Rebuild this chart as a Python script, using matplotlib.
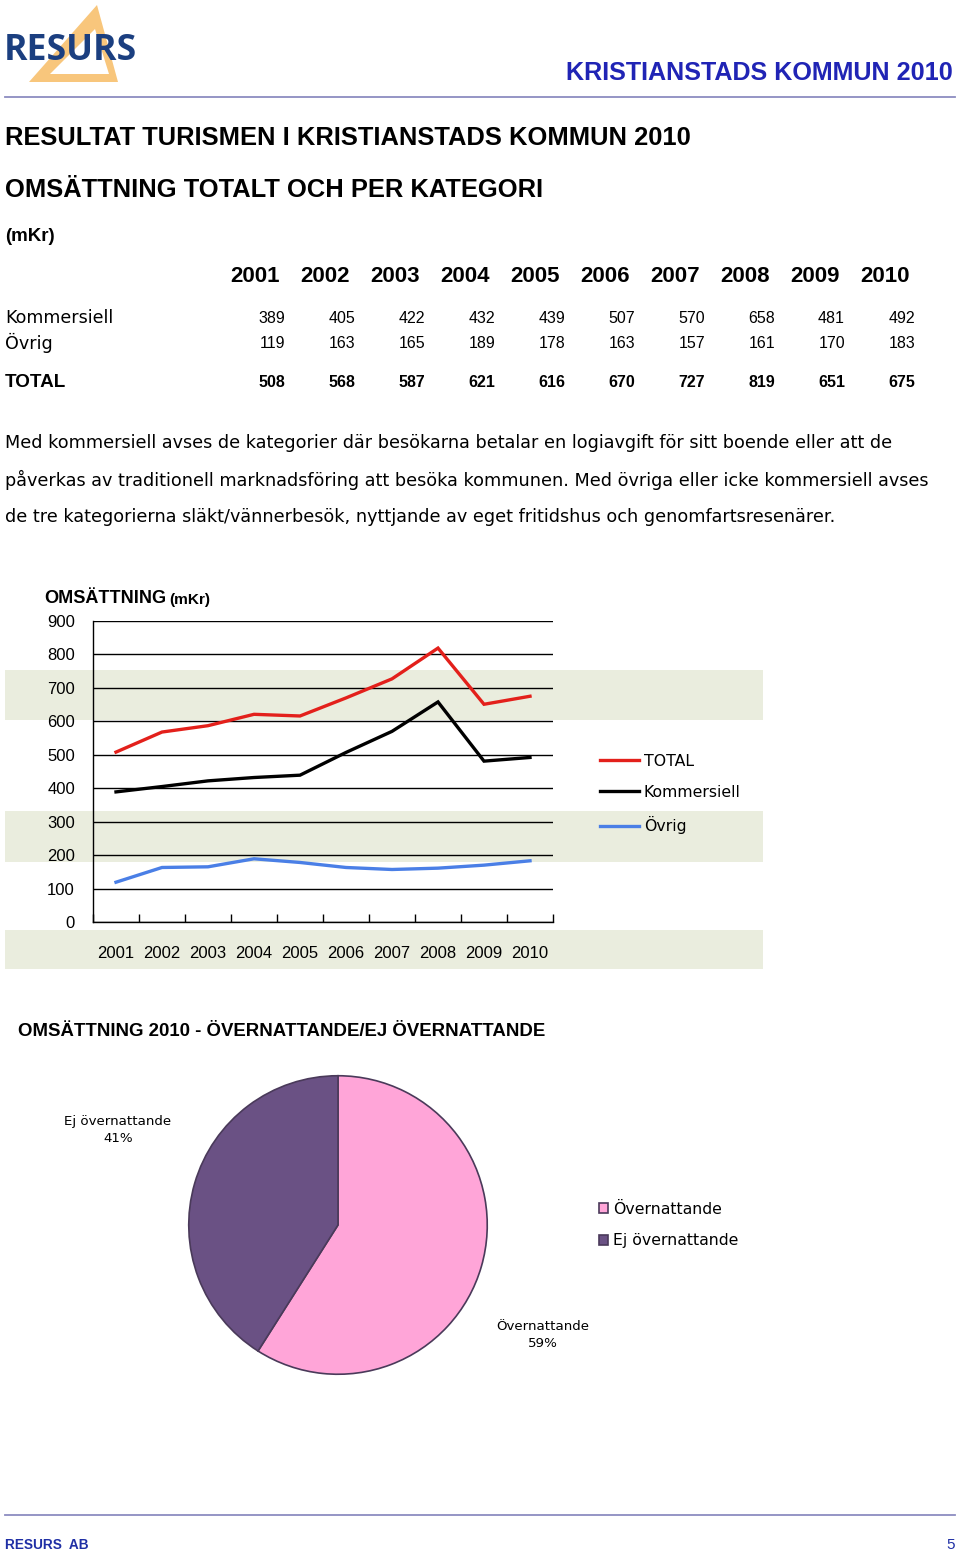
import numpy as np
import matplotlib
matplotlib.use('Agg')
import matplotlib.pyplot as plt
from matplotlib.patches import Polygon, Rectangle

#table / chart data (mKr)
years = ['2001', '2002', '2003', '2004', '2005', '2006', '2007', '2008', '2009', '2010']
kommersiell = [389, 405, 422, 432, 439, 507, 570, 658, 481, 492]
ovrig = [119, 163, 165, 189, 178, 163, 157, 161, 170, 183]
total = [508, 568, 587, 621, 616, 670, 727, 819, 651, 675]
y_ticks = [0, 100, 200, 300, 400, 500, 600, 700, 800, 900]

#pie data (2010)
pie_labels = ['Övernattande', 'Ej övernattande']
pie_shares = [59, 41]

paragraph = [
    "Med kommersiell avses de kategorier där besökarna betalar en logiavgift för sitt boende eller att de",
    "påverkas av traditionell marknadsföring att besöka kommunen. Med övriga eller icke kommersiell avses",
    "de tre kategorierna släkt/vännerbesök, nyttjande av eget fritidshus och genomfartsresenärer.",
]

W, H = 960, 1556
ARIAL = 'Liberation Sans'
WIDE = 'DejaVu Sans'

fig = plt.figure(figsize=(W / 100, H / 100), dpi=100)
fig.patch.set_facecolor('white')
page = fig.add_axes([0, 0, 1, 1], zorder=0)
page.set_xlim(0, W); page.set_ylim(H, 0); page.axis('off')
renderer = fig.canvas.get_renderer()

def box(x0, y0, x1, y1):
    #pixel box (top-left origin) -> figure fraction rect
    return [x0 / W, 1 - y1 / H, (x1 - x0) / W, (y1 - y0) / H]

def put(x, y, s, size, family=ARIAL, weight='normal', color='black', ha='left', width=None, **kw):
    t = page.text(x, y, s, fontsize=size, family=family, weight=weight, color=color,
                  ha=ha, va='center', **kw)
    if width:
        #scale font so the text spans the same width as the reference
        w = t.get_window_extent(renderer).width
        t.set_fontsize(size * width / w)
    return t

#logo
page.add_patch(Polygon([(29, 82), (97, 5), (118, 82)], closed=True, color='#f8c67c', lw=0, zorder=1))
page.add_patch(Polygon([(50, 74), (95, 29), (109, 74)], closed=True, color='white', lw=0, zorder=1))
put(4, 51, 'RESURS', 27, family='Open Sans', weight='bold', color='#1b3f80', width=133, zorder=2)

#header
put(953, 73, 'KRISTIANSTADS KOMMUN 2010', 17, weight='bold', color='#2024b5', ha='right', width=389)
page.plot([5, 955], [97, 97], color='#8c8cc0', lw=1.3)

put(5, 138, 'RESULTAT TURISMEN I KRISTIANSTADS KOMMUN 2010', 18, weight='bold', width=684)
put(5, 190, 'OMSÄTTNING TOTALT OCH PER KATEGORI', 18, weight='bold', width=536)
put(5, 236, '(mKr)', 12, weight='bold', width=50)

#table
for i, yr in enumerate(years):
    put(255 + 70 * i, 276, yr, 16, weight='bold', ha='center')
    put(285 + 70 * i, 318, str(kommersiell[i]), 11.5, ha='right')
    put(285 + 70 * i, 343, str(ovrig[i]), 11.5, ha='right')
    put(285 + 70 * i, 382, str(total[i]), 11.5, weight='bold', ha='right')
put(5, 318, 'Kommersiell', 12, family=WIDE, width=108)
put(5, 343, 'Övrig', 12, family=WIDE, width=47)
put(5, 382, 'TOTAL', 13, weight='bold', width=61)

#paragraph
t0 = put(5, 443, paragraph[0], 11, family=WIDE, width=888)
for k, line in enumerate(paragraph[1:]):
    put(5, 480 + 37 * k, line, t0.get_fontsize(), family=WIDE)

#pale background bands behind the chart
for y0, y1 in [(670, 720), (811, 862), (930, 969)]:
    page.add_patch(Rectangle((5, y0), 758, y1 - y0, color='#eaedde', lw=0, zorder=0))

#line chart
ax = fig.add_axes(box(93, 621, 553, 922), zorder=1)
ax.set_facecolor('none')
x = np.arange(len(years))
ax.plot(x, total, color='#e3201b', lw=2.4, label='TOTAL', solid_joinstyle='miter')
ax.plot(x, kommersiell, color='black', lw=2.4, label='Kommersiell', solid_joinstyle='miter')
ax.plot(x, ovrig, color='#4a7fe6', lw=2.4, label='Övrig', solid_joinstyle='miter')
ax.set_xlim(-0.5, len(years) - 0.5)
ax.set_ylim(0, 900)
ax.set_yticks(y_ticks)
ax.set_yticklabels([str(v) for v in y_ticks], family=ARIAL, fontsize=12)
ax.set_xticks(x)
ax.set_xticklabels(years, family=ARIAL, fontsize=12)
ax.set_xticks(np.arange(-0.5, len(years), 1), minor=True)
ax.tick_params(axis='y', length=0, pad=13)
ax.tick_params(axis='x', which='major', length=0, pad=17)
ax.tick_params(axis='x', which='minor', direction='in', length=6, width=1, color='black')
ax.grid(axis='y', color='black', lw=1)
ax.set_axisbelow(True)
for side in ['top', 'right']:
    ax.spines[side].set_visible(False)
for side in ['left', 'bottom']:
    ax.spines[side].set_color('black'); ax.spines[side].set_linewidth(1)

t = put(44, 598, 'OMSÄTTNING', 14, weight='bold', width=123)
put(169, 600, '(mKr)', 9.5, weight='bold', width=41)

fig.legend(*ax.get_legend_handles_labels(), loc='center left', bbox_to_anchor=(600 / W, 1 - 794 / H),
           frameon=False, prop={'family': WIDE, 'size': 11.3}, handlelength=2.5, handletextpad=0.3,
           labelspacing=1.05, borderpad=0, borderaxespad=0)

#pie section
put(18, 1032, 'OMSÄTTNING 2010 - ÖVERNATTANDE/EJ ÖVERNATTANDE', 14, weight='bold', width=528)

pax = fig.add_axes(box(188, 1075, 488, 1375), zorder=1)
wedges, _ = pax.pie(pie_shares, colors=['#ffa5d8', '#6a5184'], startangle=90, counterclock=False,
                    wedgeprops={'edgecolor': '#4a3a5a', 'linewidth': 1.2})
pax.set_xlim(-1.005, 1.005); pax.set_ylim(-1.005, 1.005)
pax.set_aspect('equal')

put(118, 1130, f'{pie_labels[1]}\n{pie_shares[1]}%', 9.6, family=WIDE, ha='center', multialignment='center', linespacing=1.45)
put(543, 1335, f'{pie_labels[0]}\n{pie_shares[0]}%', 9.6, family=WIDE, ha='center', multialignment='center', linespacing=1.45)

fig.legend(wedges, pie_labels, loc='center left', bbox_to_anchor=(599 / W, 1 - 1225 / H),
           frameon=False, prop={'family': WIDE, 'size': 11.3}, handlelength=0.6, handleheight=0.6,
           handletextpad=0.3, labelspacing=1.05, borderpad=0, borderaxespad=0)

#footer
page.plot([5, 955], [1515, 1515], color='#8c8cc0', lw=1.3)
put(5, 1545, 'RESURS  AB', 11, weight='bold', color='#1f2fa5', width=83)
put(955, 1545, '5', 11, color='#1f2fa5', ha='right')

fig.savefig('out.png', dpi=100, facecolor='white')
